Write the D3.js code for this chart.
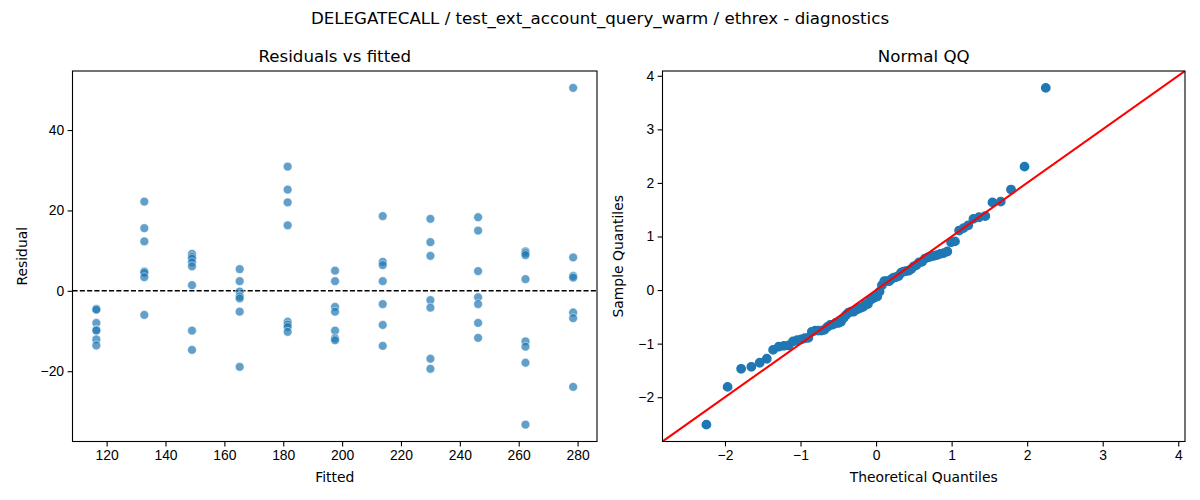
<!DOCTYPE html>
<html>
<head>
<meta charset="utf-8">
<script src="https://cdn.jsdelivr.net/npm/d3@7"></script>
<style>
  body { margin: 0; background: #fff; }
  svg { display: block; font-family: "DejaVu Sans", sans-serif; }
  .tick text { font-size: 13.9px; fill: #000; }
  .tick line, .domain { stroke: #000; stroke-width: 1.1px; }
</style>
</head>
<body>
<div id="chart"></div>
<script>
// fitted value of each group
const fittedLevels = [116.5, 132.8, 149.0, 165.2, 181.5, 197.6, 213.8, 230.0, 246.2, 262.3, 278.5];

// residuals for each fitted group (same order as fittedLevels)
const residualGroups = [
  [-4.5, -4.7, -8.0, -9.7, -9.9, -12.1, -13.6],
  [22.2, 15.6, 12.3, 4.8, 4.5, 3.4, -6.0],
  [9.2, 8.5, 8.0, 7.1, 6.1, 1.4, -9.9, -14.7],
  [5.4, 2.4, -0.2, -1.4, -1.9, -5.2, -18.9],
  [30.9, 25.2, 22.0, 16.3, -7.7, -8.4, -9.0, -10.2],
  [5.0, 2.4, -4.0, -5.2, -9.9, -11.8, -12.3],
  [18.6, 7.2, 6.4, 2.4, -3.3, -8.5, -13.7],
  [17.9, 12.1, 8.7, -2.3, -4.2, -16.9, -19.4],
  [18.3, 15.0, 4.9, -1.6, -3.3, -8.0, -11.7],
  [9.8, 9.4, 8.9, 2.9, -12.6, -13.9, -17.9, -33.3],
  [50.5, 8.3, 3.7, 3.3, -5.4, -6.8, -23.9]
];

const residTicksX = [120, 140, 160, 180, 200, 220, 240, 260, 280];
const residTicksY = [-20, 0, 20, 40];
const qqTicks = [-2, -1, 0, 1, 2, 3, 4];

const mainTitle = "DELEGATECALL / test_ext_account_query_warm / ethrex - diagnostics";

const points = [];
fittedLevels.forEach((f, i) => residualGroups[i].forEach(r => points.push({ fitted: f, resid: r })));

// inverse normal cdf (Acklam) for the theoretical quantiles
function normInv(p) {
  const a = [-3.969683028665376e+01, 2.209460984245205e+02, -2.759285104469687e+02, 1.383577518672690e+02, -3.066479806614716e+01, 2.506628277459239e+00];
  const b = [-5.447609879822406e+01, 1.615858368580409e+02, -1.556989798598866e+02, 6.680131188771972e+01, -1.328068155288572e+01];
  const c = [-7.784894002430293e-03, -3.223964580411365e-01, -2.400758277161838e+00, -2.549732539343734e+00, 4.374664141464968e+00, 2.938163982698783e+00];
  const d = [7.784695709041462e-03, 3.224671290700398e-01, 2.445134137142996e+00, 3.754408661907416e+00];
  const plow = 0.02425;
  if (p < plow) {
    const q = Math.sqrt(-2 * Math.log(p));
    return (((((c[0]*q+c[1])*q+c[2])*q+c[3])*q+c[4])*q+c[5]) / ((((d[0]*q+d[1])*q+d[2])*q+d[3])*q+1);
  }
  if (p <= 1 - plow) {
    const q = p - 0.5, r = q * q;
    return (((((a[0]*r+a[1])*r+a[2])*r+a[3])*r+a[4])*r+a[5])*q / (((((b[0]*r+b[1])*r+b[2])*r+b[3])*r+b[4])*r+1);
  }
  const q = Math.sqrt(-2 * Math.log(1 - p));
  return -(((((c[0]*q+c[1])*q+c[2])*q+c[3])*q+c[4])*q+c[5]) / ((((d[0]*q+d[1])*q+d[2])*q+d[3])*q+1);
}

// QQ points are derived from the residuals above (standardised by the
// regression's residual scale, n - 2 degrees of freedom, then sorted)
const resid = points.map(d => d.resid);
const n = resid.length;
const mu = d3.mean(resid);
const scale = Math.sqrt(d3.sum(resid, r => (r - mu) * (r - mu)) / (n - 2));
const qq = resid.slice().sort(d3.ascending)
  .map((r, i) => ({ theo: normInv((i + 1) / (n + 1)), sample: (r - mu) / scale }));

function padded(ext) {
  const span = ext[1] - ext[0];
  return [ext[0] - 0.05 * span, ext[1] + 0.05 * span];
}

const width = 1200, height = 500;
const plotTop = 71, plotBottom = 441.5;
const leftPanel = { x0: 72.5, x1: 597 };
const rightPanel = { x0: 662.5, x1: 1185 };
const fmt = d3.format("d");

const svg = d3.select("#chart").append("svg")
  .attr("width", width)
  .attr("height", height);

svg.append("text")
  .attr("x", width / 2)
  .attr("y", 24)
  .attr("text-anchor", "middle")
  .style("font-size", "16.67px")
  .text(mainTitle);

function drawFrame(g, x, y, ticksX, ticksY, title, xLabel, yLabel, yLabelX) {
  const xr = x.range(), yr = y.range();
  g.append("g")
    .attr("transform", `translate(0,${yr[0]})`)
    .call(d3.axisBottom(x).tickValues(ticksX).tickFormat(fmt).tickSize(4.9).tickPadding(3.5).tickSizeOuter(0))
    .call(a => a.select(".domain").remove());
  g.append("g")
    .attr("transform", `translate(${xr[0]},0)`)
    .call(d3.axisLeft(y).tickValues(ticksY).tickFormat(fmt).tickSize(4.9).tickPadding(3.5).tickSizeOuter(0))
    .call(a => a.select(".domain").remove());
  g.selectAll(".tick text").attr("font-family", null).attr("font-size", null);

  g.append("rect")
    .attr("x", xr[0]).attr("y", yr[1])
    .attr("width", xr[1] - xr[0]).attr("height", yr[0] - yr[1])
    .attr("fill", "none").attr("stroke", "#000").attr("stroke-width", 1.1);

  g.append("text")
    .attr("x", (xr[0] + xr[1]) / 2).attr("y", yr[1] - 9)
    .attr("text-anchor", "middle")
    .style("font-size", "16.67px")
    .text(title);

  g.append("text")
    .attr("x", (xr[0] + xr[1]) / 2).attr("y", 482)
    .attr("text-anchor", "middle")
    .style("font-size", "13.9px")
    .text(xLabel);

  g.append("text")
    .attr("transform", `translate(${yLabelX},${(yr[0] + yr[1]) / 2}) rotate(-90)`)
    .attr("text-anchor", "middle")
    .style("font-size", "13.9px")
    .text(yLabel);
}

// ---- Residuals vs fitted ----
const x1 = d3.scaleLinear().domain(padded(d3.extent(points, d => d.fitted))).range([leftPanel.x0, leftPanel.x1]);
const y1 = d3.scaleLinear().domain(padded(d3.extent(points, d => d.resid))).range([plotBottom, plotTop]);

const g1 = svg.append("g");
g1.append("line")
  .attr("x1", leftPanel.x0).attr("x2", leftPanel.x1)
  .attr("y1", y1(0)).attr("y2", y1(0))
  .attr("stroke", "#000").attr("stroke-width", 1.39)
  .attr("stroke-dasharray", "5.1 2.2");

g1.selectAll("circle.pt")
  .data(points)
  .join("circle")
  .attr("class", "pt")
  .attr("cx", d => x1(d.fitted))
  .attr("cy", d => y1(d.resid))
  .attr("r", 4.4)
  .attr("fill", "#1f77b4")
  .attr("fill-opacity", 0.7)
  .attr("stroke", "#fff")
  .attr("stroke-opacity", 0.7)
  .attr("stroke-width", 0.7);

drawFrame(g1, x1, y1, residTicksX, residTicksY, "Residuals vs fitted", "Fitted", "Residual", 27);

// ---- Normal QQ ----
const xp = padded(d3.extent(qq, d => d.theo));
const yp = padded(d3.extent(qq, d => d.sample));
const lim = [Math.min(xp[0], yp[0]), Math.max(xp[1], yp[1])];
const x2 = d3.scaleLinear().domain(lim).range([rightPanel.x0, rightPanel.x1]);
const y2 = d3.scaleLinear().domain(lim).range([plotBottom, plotTop]);

const g2 = svg.append("g");
g2.append("clipPath").attr("id", "qqclip")
  .append("rect")
  .attr("x", rightPanel.x0).attr("y", plotTop)
  .attr("width", rightPanel.x1 - rightPanel.x0).attr("height", plotBottom - plotTop);

g2.selectAll("circle.qq")
  .data(qq)
  .join("circle")
  .attr("class", "qq")
  .attr("cx", d => x2(d.theo))
  .attr("cy", d => y2(d.sample))
  .attr("r", 4.2)
  .attr("fill", "#1f77b4")
  .attr("stroke", "#1f77b4")
  .attr("stroke-width", 1.39);

g2.append("line")
  .attr("clip-path", "url(#qqclip)")
  .attr("x1", x2(lim[0])).attr("y1", y2(lim[0]))
  .attr("x2", x2(lim[1])).attr("y2", y2(lim[1]))
  .attr("stroke", "#ff0000")
  .attr("stroke-width", 2.08);

drawFrame(g2, x2, y2, qqTicks, qqTicks, "Normal QQ", "Theoretical Quantiles", "Sample Quantiles", 623);
</script>
</body>
</html>
